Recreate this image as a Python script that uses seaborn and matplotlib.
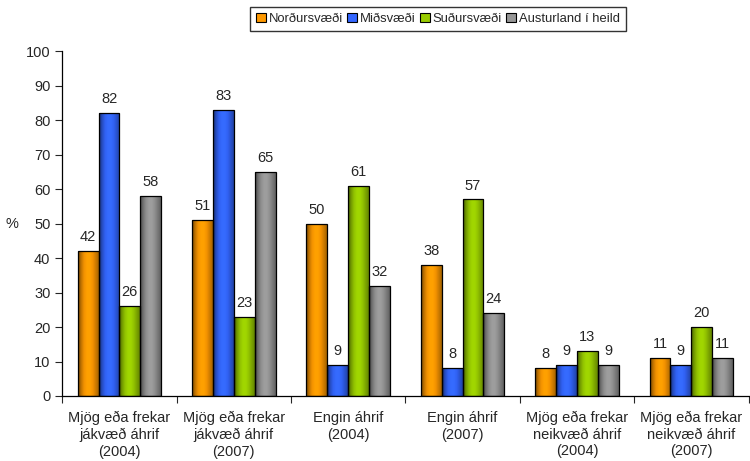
import matplotlib
matplotlib.use("Agg")
import matplotlib.pyplot as plt
import numpy as np
import pandas as pd
import seaborn as sns
from matplotlib.colors import LinearSegmentedColormap, to_rgb
from matplotlib.patches import Patch

categories = [
    "Mjög eða frekar\njákvæð áhrif\n(2004)",
    "Mjög eða frekar\njákvæð áhrif\n(2007)",
    "Engin áhrif\n(2004)",
    "Engin áhrif\n(2007)",
    "Mjög eða frekar\nneikvæð áhrif\n(2004)",
    "Mjög eða frekar\nneikvæð áhrif\n(2007)",
]
series = ["Norðursvæði", "Miðsvæði", "Suðursvæði", "Austurland í heild"]
nordur = [42, 51, 50, 38, 8, 11]
midur = [82, 83, 9, 8, 9, 9]
sudur = [26, 23, 61, 57, 13, 20]
austurland = [58, 65, 32, 24, 9, 11]
colors = ["#FF9900", "#3366FF", "#99CC00", "#969696"]

rows = []
for name, vals in zip(series, [nordur, midur, sudur, austurland]):
    for cat, v in zip(categories, vals):
        rows.append({"cat": cat, "svaedi": name, "pct": v})
df = pd.DataFrame(rows)

sns.set_style("white")
plt.rcParams["font.family"] = ["Liberation Sans", "DejaVu Sans"]
fs = 10.5

fig = plt.figure(figsize=(7.5, 4.61), dpi=100)
ax = fig.add_axes([0.083, 0.141, 0.915, 0.748])

sns.barplot(data=df, x="cat", y="pct", hue="svaedi", order=categories,
            hue_order=series, palette=colors, width=0.73, gap=0,
            edgecolor="black", linewidth=0.9, saturation=1, ax=ax, legend=False)

# cylinder-like shading on each bar
shade = np.array([0.45, 0.75, 0.95, 1.05, 1.05, 0.95, 0.8, 0.65])
for cont, col in zip(ax.containers, colors):
    base = np.array(to_rgb(col))
    cols = [tuple(np.clip(base * s, 0, 1)) for s in shade]
    cmap = LinearSegmentedColormap.from_list("sh", cols)
    grad = np.linspace(0, 1, 64).reshape(1, -1)
    for p in cont.patches:
        x0, w, h = p.get_x(), p.get_width(), p.get_height()
        im = ax.imshow(grad, cmap=cmap, aspect="auto", extent=(x0, x0 + w, 0, h),
                       zorder=p.get_zorder() - 0.01, interpolation="bicubic")
        im.set_clip_path(p)
        p.set_facecolor("none")
    ax.bar_label(cont, fmt="%d", padding=5, fontsize=fs)

ax.set_xlim(-0.5, len(categories) - 0.5)
ax.set_ylim(0, 100)
ax.set_yticks(range(0, 101, 10))
ax.set_xticks(np.arange(-0.5, len(categories), 1.0))
ax.set_xticklabels([])
ax.set_xticks(range(len(categories)), minor=True)
ax.set_xticklabels(categories, minor=True, linespacing=1.22)
ax.tick_params(axis="x", which="minor", length=0, pad=11, labelsize=fs)
ax.tick_params(axis="x", which="major", direction="out", length=5, width=0.8, bottom=True)
ax.tick_params(axis="y", direction="out", length=5, width=0.8, left=True, labelsize=fs)
ax.set_xlabel("")
ax.set_ylabel("%", rotation=0, fontsize=fs, labelpad=10, va="center")
for s in ["top", "right"]:
    ax.spines[s].set_visible(False)
for s in ["left", "bottom"]:
    ax.spines[s].set_color("black")
    ax.spines[s].set_linewidth(0.9)

handles = [Patch(facecolor=c, edgecolor="black", linewidth=0.8) for c in colors]
fig.legend(handles, series, loc="center", bbox_to_anchor=(0.584, 0.959), ncol=4,
           frameon=True, fancybox=False, edgecolor="black", fontsize=9.4,
           handlelength=0.75, handleheight=0.75, handletextpad=0.25, columnspacing=0.3,
           borderpad=0.45, borderaxespad=0)

fig.savefig("out.png", dpi=100)
